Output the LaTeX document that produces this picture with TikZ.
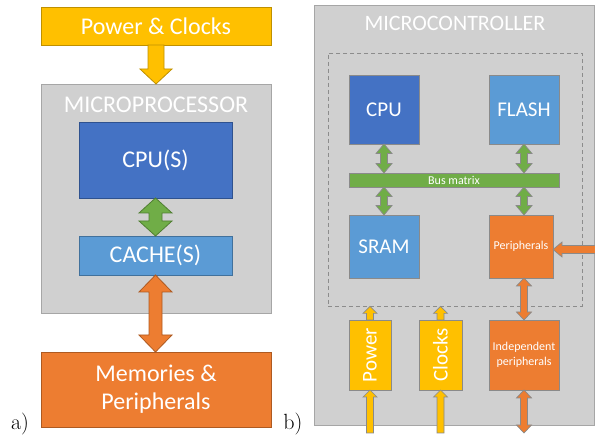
\documentclass[tikz,border=0pt]{standalone}
\usepackage{fontspec}
\newfontfamily\calib{Carlito}
\usetikzlibrary{calc}
\definecolor{cyel}{HTML}{FFC000}
\definecolor{cyelb}{HTML}{BF9000}
\definecolor{cgray}{HTML}{D0D0D0}
\definecolor{cgrayb}{HTML}{A6A6A6}
\definecolor{cblue}{HTML}{4472C4}
\definecolor{cblueb}{HTML}{2F528F}
\definecolor{clblue}{HTML}{5B9BD5}
\definecolor{clblueb}{HTML}{41719C}
\definecolor{corange}{HTML}{ED7D31}
\definecolor{corangeb}{HTML}{AE5A21}
\definecolor{cgreen}{HTML}{70AD47}
\definecolor{cgreenb}{HTML}{507E32}
\definecolor{rgray}{HTML}{8A8A8A}
\definecolor{cdash}{HTML}{8C8C8C}
% vertical double-headed fat arrow: style, top, bottom, shaft half, head half, head length
\newcommand{\fatV}[6]{\path[#1] let \p1=(#2), \p2=(#3) in
 (\x1,\y1) -- (\x1+#5,\y1-#6) -- (\x1+#4,\y1-#6) -- (\x1+#4,\y2+#6) -- (\x1+#5,\y2+#6)
 -- (\x1,\y2) -- (\x1-#5,\y2+#6) -- (\x1-#4,\y2+#6) -- (\x1-#4,\y1-#6) -- (\x1-#5,\y1-#6) -- cycle;}
% downward single-headed: style, tail(top), tip(bottom)
\newcommand{\fatDown}[6]{\path[#1] let \p1=(#2), \p2=(#3) in
 (\x1-#4,\y1) -- (\x1+#4,\y1) -- (\x1+#4,\y2+#6) -- (\x1+#5,\y2+#6) -- (\x1,\y2)
 -- (\x1-#5,\y2+#6) -- (\x1-#4,\y2+#6) -- cycle;}
% upward single-headed: style, tip(top), tail(bottom)
\newcommand{\fatUp}[6]{\path[#1] let \p1=(#2), \p2=(#3) in
 (\x1,\y1) -- (\x1+#5,\y1-#6) -- (\x1+#4,\y1-#6) -- (\x1+#4,\y2) -- (\x1-#4,\y2)
 -- (\x1-#4,\y1-#6) -- (\x1-#5,\y1-#6) -- cycle;}
% leftward single-headed: style, tip(left), tail(right)
\newcommand{\fatLeft}[6]{\path[#1] let \p1=(#2), \p2=(#3) in
 (\x1,\y1) -- (\x1+#6,\y1+#5) -- (\x1+#6,\y1+#4) -- (\x2,\y1+#4) -- (\x2,\y1-#4)
 -- (\x1+#6,\y1-#4) -- (\x1+#6,\y1-#5) -- cycle;}
\tikzset{
 lbox/.style={draw, line width=0.9pt, inner sep=0pt, outer sep=0pt, text=white,
   font=\calib\fontsize{24}{28}\selectfont, align=center},
 rbox/.style={draw=rgray, line width=0.9pt, inner sep=0pt, outer sep=0pt, text=white,
   font=\calib\fontsize{21}{25}\selectfont, align=center},
 smalltxt/.style={font=\calib\fontsize{12}{14.5}\selectfont},
 yarrow/.style={fill=cyel, draw=cyelb, line width=0.8pt},
 garrow/.style={fill=cgreen, draw=cgreenb, line width=0.8pt},
 oarrow/.style={fill=corange, draw=corangeb, line width=0.8pt},
 yarrowR/.style={fill=cyel, draw=rgray, line width=0.7pt},
 garrowR/.style={fill=cgreen, draw=rgray, line width=0.7pt},
 oarrowR/.style={fill=corange, draw=rgray, line width=0.7pt},
 lab/.style={font=\fontsize{22}{26}\selectfont, inner sep=0pt},
}
\begin{document}
\begin{tikzpicture}[x=1pt, y=-1pt]
\useasboundingbox (0,0) rectangle (595,438);
% ---------- a) microprocessor ----------
\node[lbox, fill=cyel, draw=cyelb, minimum width=230pt, minimum height=38pt] (pc) at (156,26) {Power \& Clocks};
\node[lbox, fill=cgray, draw=cgrayb, minimum width=230pt, minimum height=229pt] (mp) at (156,198.5) {};
\node[text=white, font=\calib\fontsize{24}{28}\selectfont, inner sep=0pt] (mplab) at (156,104.5) {MICROPROCESSOR};
\node[lbox, fill=cblue, draw=cblueb, minimum width=153pt, minimum height=76pt] (cpu) at (155.5,160) {CPU(S)};
\node[lbox, fill=clblue, draw=clblueb, minimum width=153pt, minimum height=39pt] (cache) at (155.5,255.5) {CACHE(S)};
\node[lbox, fill=corange, draw=corangeb, minimum width=230pt, minimum height=75pt] (mem) at (156,389.5) {Memories \&\\Peripherals};
\fatDown{yarrow}{pc.south}{mp.north}{8pt}{16pt}{15pt}
\fatV{garrow}{cpu.south}{cache.north}{6.5pt}{16.5pt}{15pt}
\fatV{oarrow}{cache.south}{mem.north}{6.5pt}{16.5pt}{17pt}
\node[lab] (la) at (20,424) {a)};
% ---------- b) microcontroller ----------
\node[fill=cgray, draw=cgrayb, line width=0.9pt, minimum width=280pt, minimum height=420pt, inner sep=0pt] (mc) at (454,215) {};
\node[text=white, font=\calib\fontsize{22}{26}\selectfont, inner sep=0pt] (mclab) at (455,23.5) {MICROCONTROLLER};
\node[draw=cdash, dash pattern=on 4pt off 3pt, line width=0.8pt, minimum width=254pt, minimum height=253pt, inner sep=0pt] (dash) at (455,179.5) {};
\node[rbox, fill=cblue, minimum width=70pt, minimum height=69pt] (cpu2) at (384,109.5) {CPU};
\node[rbox, fill=clblue, minimum width=70pt, minimum height=69pt] (flash) at (524,109.5) {FLASH};
\node[rbox, smalltxt, fill=cgreen, minimum width=210pt, minimum height=14pt] (bus) at (454,180) {Bus matrix};
\node[rbox, fill=clblue, minimum width=70pt, minimum height=63pt] (sram) at (384,246.5) {SRAM};
\node[rbox, smalltxt, fill=corange, minimum width=64pt, minimum height=63pt] (periph) at (521,246.5) {Peripherals};
\node[rbox, smalltxt, fill=corange, minimum width=70pt, minimum height=70pt] (indep) at (524,355) {Independent\\peripherals};
\node[rbox, fill=cyel, rotate=90, minimum width=70pt, minimum height=42pt] (power) at (370,355) {Power};
\node[rbox, fill=cyel, rotate=90, minimum width=70pt, minimum height=43pt] (clocks) at (440.5,355) {Clocks};
\coordinate (pin) at (597,249.5);
\coordinate (ptip) at (periph.east |- pin);
\coordinate (pwin) at (370,433);
\coordinate (cwin) at (440.5,433);
\coordinate (indout) at (524,433);
% green bus arrows
\fatV{garrowR}{cpu2.south}{cpu2.south |- bus.north}{3.5pt}{8pt}{9.5pt}
\fatV{garrowR}{sram.north |- bus.south}{sram.north}{3.5pt}{8pt}{9.5pt}
\fatV{garrowR}{flash.south}{flash.south |- bus.north}{3.5pt}{8pt}{9.5pt}
\fatV{garrowR}{flash.south |- bus.south}{flash.south |- periph.north}{3.5pt}{8pt}{9.5pt}
% orange arrows
\fatV{oarrowR}{indep.north |- periph.south}{indep.north}{3.5pt}{7.5pt}{8pt}
\fatV{oarrowR}{indep.south}{indout}{3.5pt}{7.5pt}{8pt}
\fatLeft{oarrowR}{ptip}{pin}{4pt}{7.5pt}{9pt}
% yellow arrows
\fatUp{yarrowR}{power.east |- dash.south}{power.east}{3.5pt}{7pt}{7pt}
\fatUp{yarrowR}{clocks.east |- dash.south}{clocks.east}{3.5pt}{7pt}{7pt}
\fatUp{yarrowR}{power.west}{pwin}{3.5pt}{7pt}{7pt}
\fatUp{yarrowR}{clocks.west}{cwin}{3.5pt}{7pt}{7pt}
\node[lab] (lb) at (293,424) {b)};
\end{tikzpicture}
\end{document}
